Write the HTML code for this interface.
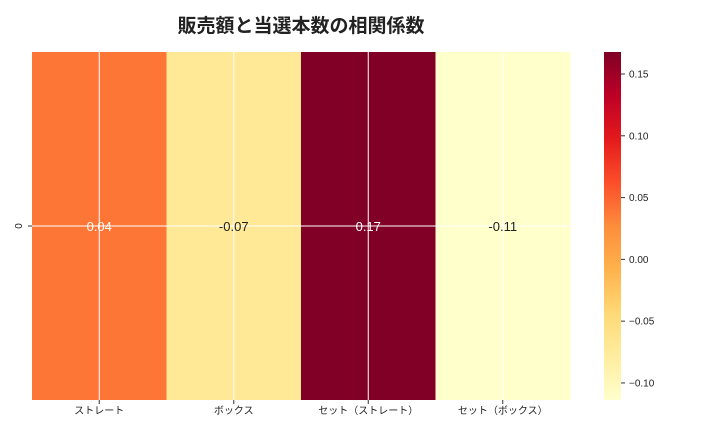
<!DOCTYPE html>
<html><head><meta charset="utf-8"><style>
body{margin:0;background:#fff;font-family:"Liberation Sans","Noto Sans CJK JP",sans-serif}
svg text{font-family:"Liberation Sans","Noto Sans CJK JP",sans-serif}
</style></head><body>
<svg id="chart" width="720" height="432" xmlns="http://www.w3.org/2000/svg">
<text x="301" y="32" font-size="19" font-weight="bold" text-anchor="middle" fill="#222">販売額と当選本数の相関係数</text>
<g id="cells"></g><g id="cbar"></g>
</svg>
<script>
const categories=["ストレート","ボックス","セット（ストレート）","セット（ボックス）"];
const values=[0.04,-0.07,0.1678,-0.1138];
const labels=["0.04","-0.07","0.17","-0.11"];
const cbTicks=[0.15,0.10,0.05,0.00,-0.05,-0.10];
const cbLabels=["0.15","0.10","0.05","0.00","\u22120.05","\u22120.10"];
const stops=["#ffffcc","#ffeda0","#fed976","#feb24c","#fd8d3c","#fc4e2a","#e31a1c","#bd0026","#800026"];
const NS="http://www.w3.org/2000/svg";
const vmin=Math.min(...values),vmax=Math.max(...values);
const X0=32,X1=570,Y0=52,Y1=400,CB0=604,CB1=621;
function hex(h){return [1,3,5].map(i=>parseInt(h.substr(i,2),16));}
function color(v){let t=(v-vmin)/(vmax-vmin);t=Math.max(0,Math.min(1,t));const p=t*(stops.length-1);const i=Math.min(Math.floor(p),stops.length-2);const f=p-i;const a=hex(stops[i]),b=hex(stops[i+1]);return "rgb("+a.map((x,k)=>Math.round(x+(b[k]-x)*f)).join(",")+")";}
function cbY(v){return Y1-(v-vmin)/(vmax-vmin)*(Y1-Y0);}
function mk(tag,attrs,parent){const e=document.createElementNS(NS,tag);for(const k in attrs)e.setAttribute(k,attrs[k]);parent.appendChild(e);return e;}
const svg=document.getElementById('chart');
const g=document.getElementById('cells');
const w=(X1-X0)/categories.length;
categories.forEach((c,i)=>{
 const r=mk('rect',{x:X0+i*w,y:Y0,width:w+0.5,height:Y1-Y0,fill:color(values[i])},g);
 
 
});
// grid
categories.forEach((c,i)=>{const l=mk('line',{x1:X0+(i+0.5)*w,x2:X0+(i+0.5)*w,y1:Y0,y2:Y1,stroke:'#fff','stroke-width':1},g);
 });
const hl=mk('line',{x1:X0,x2:X1,y1:(Y0+Y1)/2,y2:(Y0+Y1)/2,stroke:'#fff','stroke-width':1},g);

categories.forEach((c,i)=>{
 const cx=X0+(i+0.5)*w;
 const v=(values[i]-vmin)/(vmax-vmin);
 const t=mk('text',{x:cx,y:231,'font-size':13,'text-anchor':'middle',fill:v>0.5?'#fff':'#222'},g);t.textContent=labels[i];
 
 mk('line',{x1:cx,x2:cx,y1:Y1,y2:Y1+4,stroke:'#333'},g);
 const xl=mk('text',{x:cx,y:414,'font-size':10,'text-anchor':'middle',fill:'#222'},g);xl.textContent=c;
 
});
mk('line',{x1:X0-4,x2:X0,y1:226,y2:226,stroke:'#333'},g);
const yl=mk('text',{x:22,y:226,'font-size':10,'text-anchor':'middle',fill:'#222',transform:'rotate(-90 22 226)'},g);yl.textContent="0";

// colorbar
const cb=document.getElementById('cbar');
const defs=mk('defs',{},svg);const lg=mk('linearGradient',{id:'grad',x1:0,y1:1,x2:0,y2:0},defs);
stops.forEach((s,i)=>mk('stop',{offset:i/(stops.length-1),'stop-color':s},lg));
const cr=mk('rect',{x:CB0,y:Y0,width:CB1-CB0,height:Y1-Y0,fill:'url(#grad)'},cb);

cbTicks.forEach((v,i)=>{const y=cbY(v);mk('line',{x1:CB1,x2:CB1+4,y1:y,y2:y,stroke:'#333'},cb);
 const t=mk('text',{x:CB1+8,y:y+3.5,'font-size':10,fill:'#222'},cb);t.textContent=cbLabels[i];
 });
</script>
</body></html>
